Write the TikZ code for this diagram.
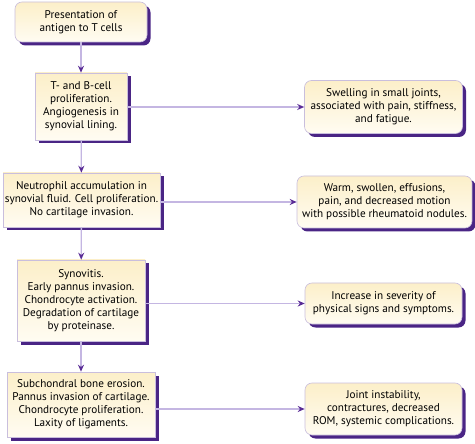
\documentclass[tikz,border=0pt]{standalone}
\usepackage{fontspec}
\setmainfont{PT Sans}
\usetikzlibrary{arrows.meta,shadows}

\definecolor{boxline}{HTML}{C9BEDD}
\definecolor{linkline}{HTML}{C4B6E2}
\definecolor{tippurple}{HTML}{5A2C96}
\definecolor{shadowpurple}{HTML}{4A2585}
\definecolor{creamtop}{HTML}{FCEFC9}
\definecolor{creambot}{HTML}{FFFCF2}

\tikzset{
  stage/.style={draw=boxline, line width=0.6pt, top color=creamtop, bottom color=creambot,
    align=center, inner sep=1pt, font=\fontsize{11.2}{13}\selectfont,
    drop shadow={shadow xshift=3.5pt, shadow yshift=-3.5pt, fill=shadowpurple, opacity=1}},
  sign/.style={stage, rounded corners=7pt},
  link/.style={draw=linkline, line width=1.3pt, -{Stealth[length=7pt,width=6pt,color=tippurple]}}
}

\begin{document}
\begin{tikzpicture}[x=1pt,y=-1pt]
   \useasboundingbox (0,0) rectangle (475,444);
   % disease stages
   \node[sign, minimum width=132pt, minimum height=40pt] (s1) at (81,22) {Presentation of\\antigen to T cells};
   \node[stage, minimum width=92pt, minimum height=67pt] (s2) at (81,106.5) {T- and B-cell\\proliferation.\\Angiogenesis in\\synovial lining.};
   \node[stage, minimum width=157pt, minimum height=54pt] (s3) at (81.5,200) {Neutrophil accumulation in\\synovial fluid. Cell proliferation.\\No cartilage invasion.};
   \node[stage, minimum width=128pt, minimum height=81pt] (s4) at (81,300.5) {Synovitis.\\Early pannus invasion.\\Chondrocyte activation.\\Degradation of cartilage\\by proteinase.};
   \node[stage, minimum width=148pt, minimum height=65pt] (s5) at (81,404.5) {Subchondral bone erosion.\\Pannus invasion of cartilage.\\Chondrocyte proliferation.\\Laxity of ligaments.};
   % clinical signs
   \node[sign, minimum width=158pt, minimum height=53pt] (c2) at (383.5,107) {Swelling in small joints,\\associated with pain, stiffness,\\and fatigue.};
   \node[sign, minimum width=175pt, minimum height=52pt] (c3) at (384.5,202) {Warm, swollen, effusions,\\pain, and decreased motion\\with possible rheumatoid nodules.};
   \node[sign, minimum width=157pt, minimum height=41pt] (c4) at (383.5,303.5) {Increase in severity of\\physical signs and symptoms.};
   \node[sign, minimum width=157pt, minimum height=52pt] (c5) at (383.5,409) {Joint instability,\\contractures, decreased\\ROM, systemic complications.};
   % connectors
   \draw[link] (s1) -- (s2);
   \draw[link] (s2) -- (s3);
   \draw[link] (s3) -- (s4);
   \draw[link] (s4) -- (s5);
   \draw[link] (s2.east |- c2.west) -- (c2.west);
   \draw[link] (s3.east |- c3.west) -- (c3.west);
   \draw[link] (s4.east |- c4.west) -- (c4.west);
   \draw[link] (s5.east |- c5.west) -- (c5.west);
\end{tikzpicture}
\end{document}
